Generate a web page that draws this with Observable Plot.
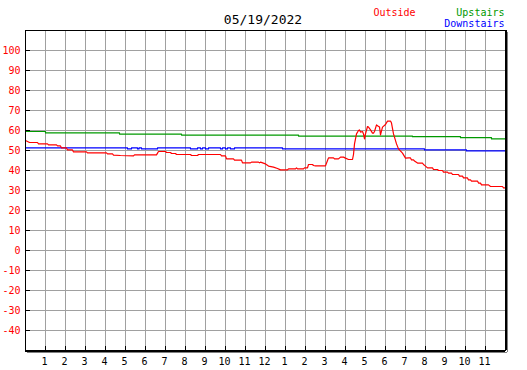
<!DOCTYPE html>
<html>
<head>
<meta charset="utf-8">
<script src="https://cdn.jsdelivr.net/npm/d3@7"></script>
<script src="https://cdn.jsdelivr.net/npm/@observablehq/plot@0.6"></script>
<style>
  html, body { margin: 0; padding: 0; background: #fff; }
</style>
</head>
<body>
<div id="chart"></div>
<script>
const title = "05/19/2022";
const seriesNames = ["Outside", "Upstairs", "Downstairs"];
const seriesColors = ["#ff0000", "#009900", "#0000ff"];

const yTicks = [-40, -30, -20, -10, 0, 10, 20, 30, 40, 50, 60, 70, 80, 90, 100];
const hourTicks = [1,2,3,4,5,6,7,8,9,10,11,12,13,14,15,16,17,18,19,20,21,22,23];
const hourLabels = ["1","2","3","4","5","6","7","8","9","10","11","12","1","2","3","4","5","6","7","8","9","10","11"];

// Outside temperature (hour of day, °F)
const outsideHours = [0,0.1,0.2,0.6,0.65,1.1,1.15,1.55,1.6,1.75,1.8,2.05,2.1,2.35,2.4,3.05,3.1,4.05,4.1,4.35,4.4,4.75,5.4,5.45,6.55,6.6,6.65,7.0,7.05,7.25,7.3,7.5,7.55,8.25,8.3,8.6,8.65,9.75,9.8,10.0,10.05,10.4,10.45,10.8,10.85,11.25,11.3,11.65,11.7,11.75,12.0,12.15,12.4,12.6,12.75,13.1,13.15,13.5,13.55,13.6,13.9,13.95,14.1,14.15,14.35,14.4,14.5,15.0,15.1,15.15,15.4,15.45,15.65,15.75,15.9,16.0,16.15,16.35,16.4,16.45,16.55,16.65,16.7,16.75,16.85,16.9,16.95,17.0,17.1,17.15,17.25,17.35,17.4,17.45,17.55,17.65,17.7,17.75,17.85,18.0,18.1,18.25,18.3,18.4,18.55,18.65,18.85,19.0,19.15,19.25,19.3,19.4,19.45,19.6,19.85,19.9,20.0,20.1,20.35,20.4,20.6,20.65,20.85,20.9,21.1,21.15,21.3,21.35,21.65,21.7,21.85,21.9,22.1,22.15,22.25,22.3,22.6,22.65,22.75,22.8,23.15,23.25,23.85,23.9,24];
const outsideTemps = [55,54.5,54,54,53.3,53.3,52.8,52.8,52.3,52.3,51.3,51.3,50.3,50.3,49.3,49.3,48.8,48.8,48.3,48.3,47.7,47.5,47.3,47.8,47.8,48.7,49.5,49.5,49,49,48.5,48.5,48,48,47.5,47.5,48,48,47.3,47.3,45.8,45.8,45.2,45.2,43.8,43.8,44.2,44.2,43.8,44.2,43.3,42.2,41.7,41,40.3,40.3,40.8,40.8,41.3,40.8,40.8,41.3,41.3,43,43,42.5,42.3,42.3,45,46.3,46.3,45.8,45.8,46.7,46.7,46.2,45.5,45.5,48,53.3,58.3,60,60.3,59.2,59.5,58.3,55.8,58.3,62,61.7,60.3,58.7,58.7,59.5,62.8,62,61.8,57.8,61.7,63,64.7,64.7,63.7,58.3,53.3,50.8,48.7,46.2,46.3,46.3,45.3,45.3,44.7,43.7,43.7,43,42.2,41.3,41.3,40.5,40.5,40,40,39.2,39.2,38.7,38.7,38,38,37.2,37.2,36.3,36.3,35.3,35.3,34.7,34.7,33.7,33.7,32.8,32.8,32,32,31.3,31.3];

// Upstairs temperature (step changes)
const upstairsHours = [0, 1.0, 4.7, 7.8, 13.65, 19.35, 21.75, 23.3, 24];
const upstairsTemps = [59.5, 58.8, 58.2, 57.7, 57.2, 56.9, 56.4, 55.8, 55.8];

// Downstairs temperature (step changes)
const downstairsHours = [0,5.1,5.3,5.6,5.675,5.8,6.6,8.25,8.6,8.75,8.85,9.0,9.15,9.75,9.85,10.0,10.1,10.25,10.45,12.85,19.95,22.05,24];
const downstairsTemps = [51.3,50.8,51.3,50.8,51.3,50.8,51.3,50.8,51.3,50.8,51.3,50.8,51.3,50.8,51.3,50.8,51.3,50.8,51.3,50.8,50.3,49.8,49.8];

const outside = outsideHours.map((h, i) => ({h, t: outsideTemps[i]}));
const upstairs = upstairsHours.map((h, i) => ({h, t: upstairsTemps[i]}));
const downstairs = downstairsHours.map((h, i) => ({h, t: downstairsTemps[i]}));

const font = "DejaVu Sans Mono";

const chart = Plot.plot({
  width: 527,
  height: 370,
  marginLeft: 25,
  marginRight: 22,
  marginTop: 30,
  marginBottom: 20,
  style: {fontFamily: font, background: "#fff"},
  x: {domain: [0, 24], axis: null},
  y: {domain: [-50, 110], axis: null},
  marks: [
    Plot.ruleX(hourTicks, {x: d => d, stroke: "#a0a0a0", strokeWidth: 1}),
    Plot.ruleY(yTicks, {y: d => d, stroke: "#a0a0a0", strokeWidth: 1}),
    Plot.line(upstairs, {x: "h", y: "t", curve: "step-after", stroke: seriesColors[1], strokeWidth: 1.2}),
    Plot.line(downstairs, {x: "h", y: "t", curve: "step-after", stroke: seriesColors[2], strokeWidth: 1.2}),
    Plot.line(outside, {x: "h", y: "t", stroke: seriesColors[0], strokeWidth: 1.2}),
    Plot.frame({stroke: "black", strokeWidth: 1}),
    // shadow on right and bottom edges
    Plot.ruleX([24], {x: d => d, dx: 1, stroke: "black"}),
    Plot.ruleX([24], {x: d => d, dx: 2, dy: 2, stroke: "#808080"}),
    Plot.ruleY([-50], {y: d => d, dy: 1, stroke: "black"}),
    Plot.ruleY([-50], {y: d => d, dy: 2, dx: 2, stroke: "#808080"}),
    // tick marks
    Plot.ruleY(yTicks, {y: d => d, x1: 0, x2: 0.25, stroke: "black"}),
    Plot.ruleX(hourTicks, {x: d => d, y1: -50, y2: -48, stroke: "black"}),
    // tick labels
    Plot.text(yTicks, {x: 0, y: d => d, text: d => String(d), textAnchor: "end", dx: -5, fill: seriesColors[0], fontSize: 10, fontFamily: font}),
    Plot.text(hourTicks, {x: d => d, y: -50, text: (d, i) => hourLabels[i], dy: 11, dx: -1, fill: "black", fontSize: 10, fontFamily: font}),
    // title
    Plot.text([title], {frameAnchor: "top", lineAnchor: "middle", text: d => d, dy: -10.5, dx: -2.5, fontSize: 13, fill: "black", fontFamily: font}),
    // legend
    Plot.text([seriesNames[0]], {frameAnchor: "top-left", lineAnchor: "middle", text: d => d, dx: 348, dy: -18, textAnchor: "start", fontSize: 10, fill: seriesColors[0], fontFamily: font}),
    Plot.text([seriesNames[1]], {frameAnchor: "top-right", lineAnchor: "middle", text: d => d, dx: -1, dy: -18, textAnchor: "end", fontSize: 10, fill: seriesColors[1], fontFamily: font}),
    Plot.text([seriesNames[2]], {frameAnchor: "top-right", lineAnchor: "middle", text: d => d, dx: -1, dy: -6.5, textAnchor: "end", fontSize: 10, fill: seriesColors[2], fontFamily: font})
  ]
});
document.getElementById("chart").appendChild(chart);
</script>
</body>
</html>
